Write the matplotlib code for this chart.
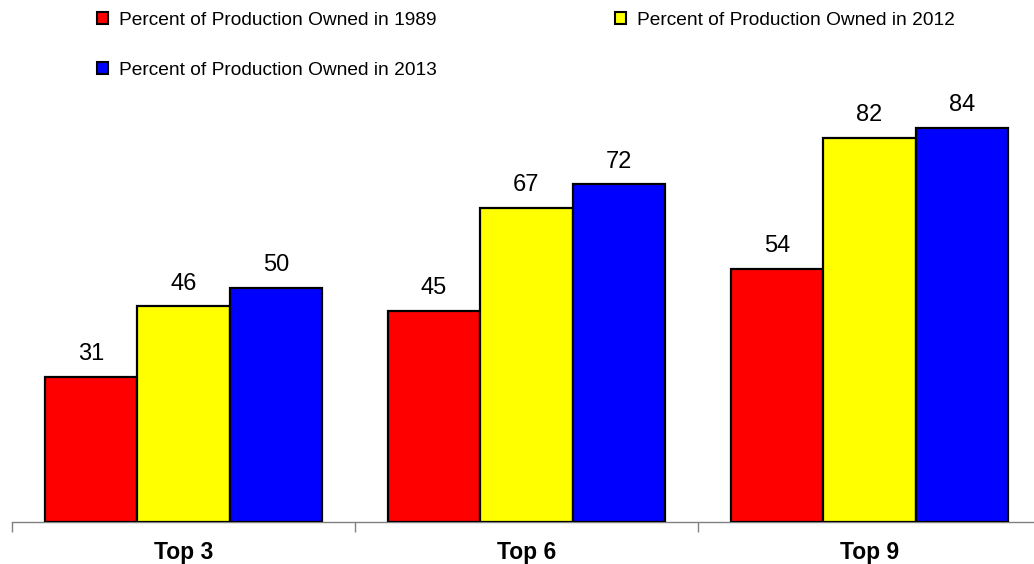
import numpy as np
import matplotlib; matplotlib.use("Agg")
import matplotlib.pyplot as plt
from matplotlib.patches import Patch

plt.rcParams["font.family"] = ["Liberation Sans", "DejaVu Sans"]

groups = ["Top 3", "Top 6", "Top 9"]
series = ["Percent of Production Owned in 1989",
          "Percent of Production Owned in 2012",
          "Percent of Production Owned in 2013"]
pct_1989 = [31, 45, 54]
pct_2012 = [46, 67, 82]
pct_2013 = [50, 72, 84]
colors = ["#ff0000", "#ffff00", "#0000ff"]

W, H = 1034, 564
fig = plt.figure(figsize=(W / 100, H / 100), dpi=100)
ax = fig.add_axes([12 / W, 42 / H, 1029 / W, 422 / H])

x = np.arange(len(groups)) + 0.5
bw = 0.27
for k, (vals, c) in enumerate(zip([pct_1989, pct_2012, pct_2013], colors)):
    bars = ax.bar(x + (k - 1) * bw, vals, bw, color=c, edgecolor="black", linewidth=1.6, zorder=3)
    for b, v in zip(bars, vals):
        ax.annotate(str(v), (b.get_x() + b.get_width() / 2, v), xytext=(0, 12),
                    textcoords="offset points", ha="center", va="baseline", fontsize=17)

ax.set_xlim(0, 3); ax.set_ylim(0, 90)
for s in ["top", "right", "left"]: ax.spines[s].set_visible(False)
ax.spines["bottom"].set_color("#808080"); ax.spines["bottom"].set_linewidth(1.0)
ax.set_yticks([])
ax.set_xticks(x); ax.set_xticklabels(groups, fontsize=16.5, fontweight="bold")
ax.tick_params(axis="x", which="major", length=0, pad=14)
ax.set_xticks([0, 1, 2, 3], minor=True)
ax.tick_params(axis="x", which="minor", length=7, color="#808080", width=1.0)

# column-major legend order: 1989 / 2013 in the first column, 2012 in the second
handles = [Patch(facecolor=colors[i], edgecolor="black", linewidth=1.5) for i in (0, 2, 1)]
labels = [series[i] for i in (0, 2, 1)]
fig.legend(handles, labels, loc="upper left", bbox_to_anchor=(87 / W, 1 - 2 / H), ncol=2,
           frameon=False, fontsize=13.8, borderpad=0, handlelength=0.58, handleheight=0.58,
           handletextpad=0.58, columnspacing=9.3, labelspacing=1.72)

fig.savefig("out.png", dpi=100)
